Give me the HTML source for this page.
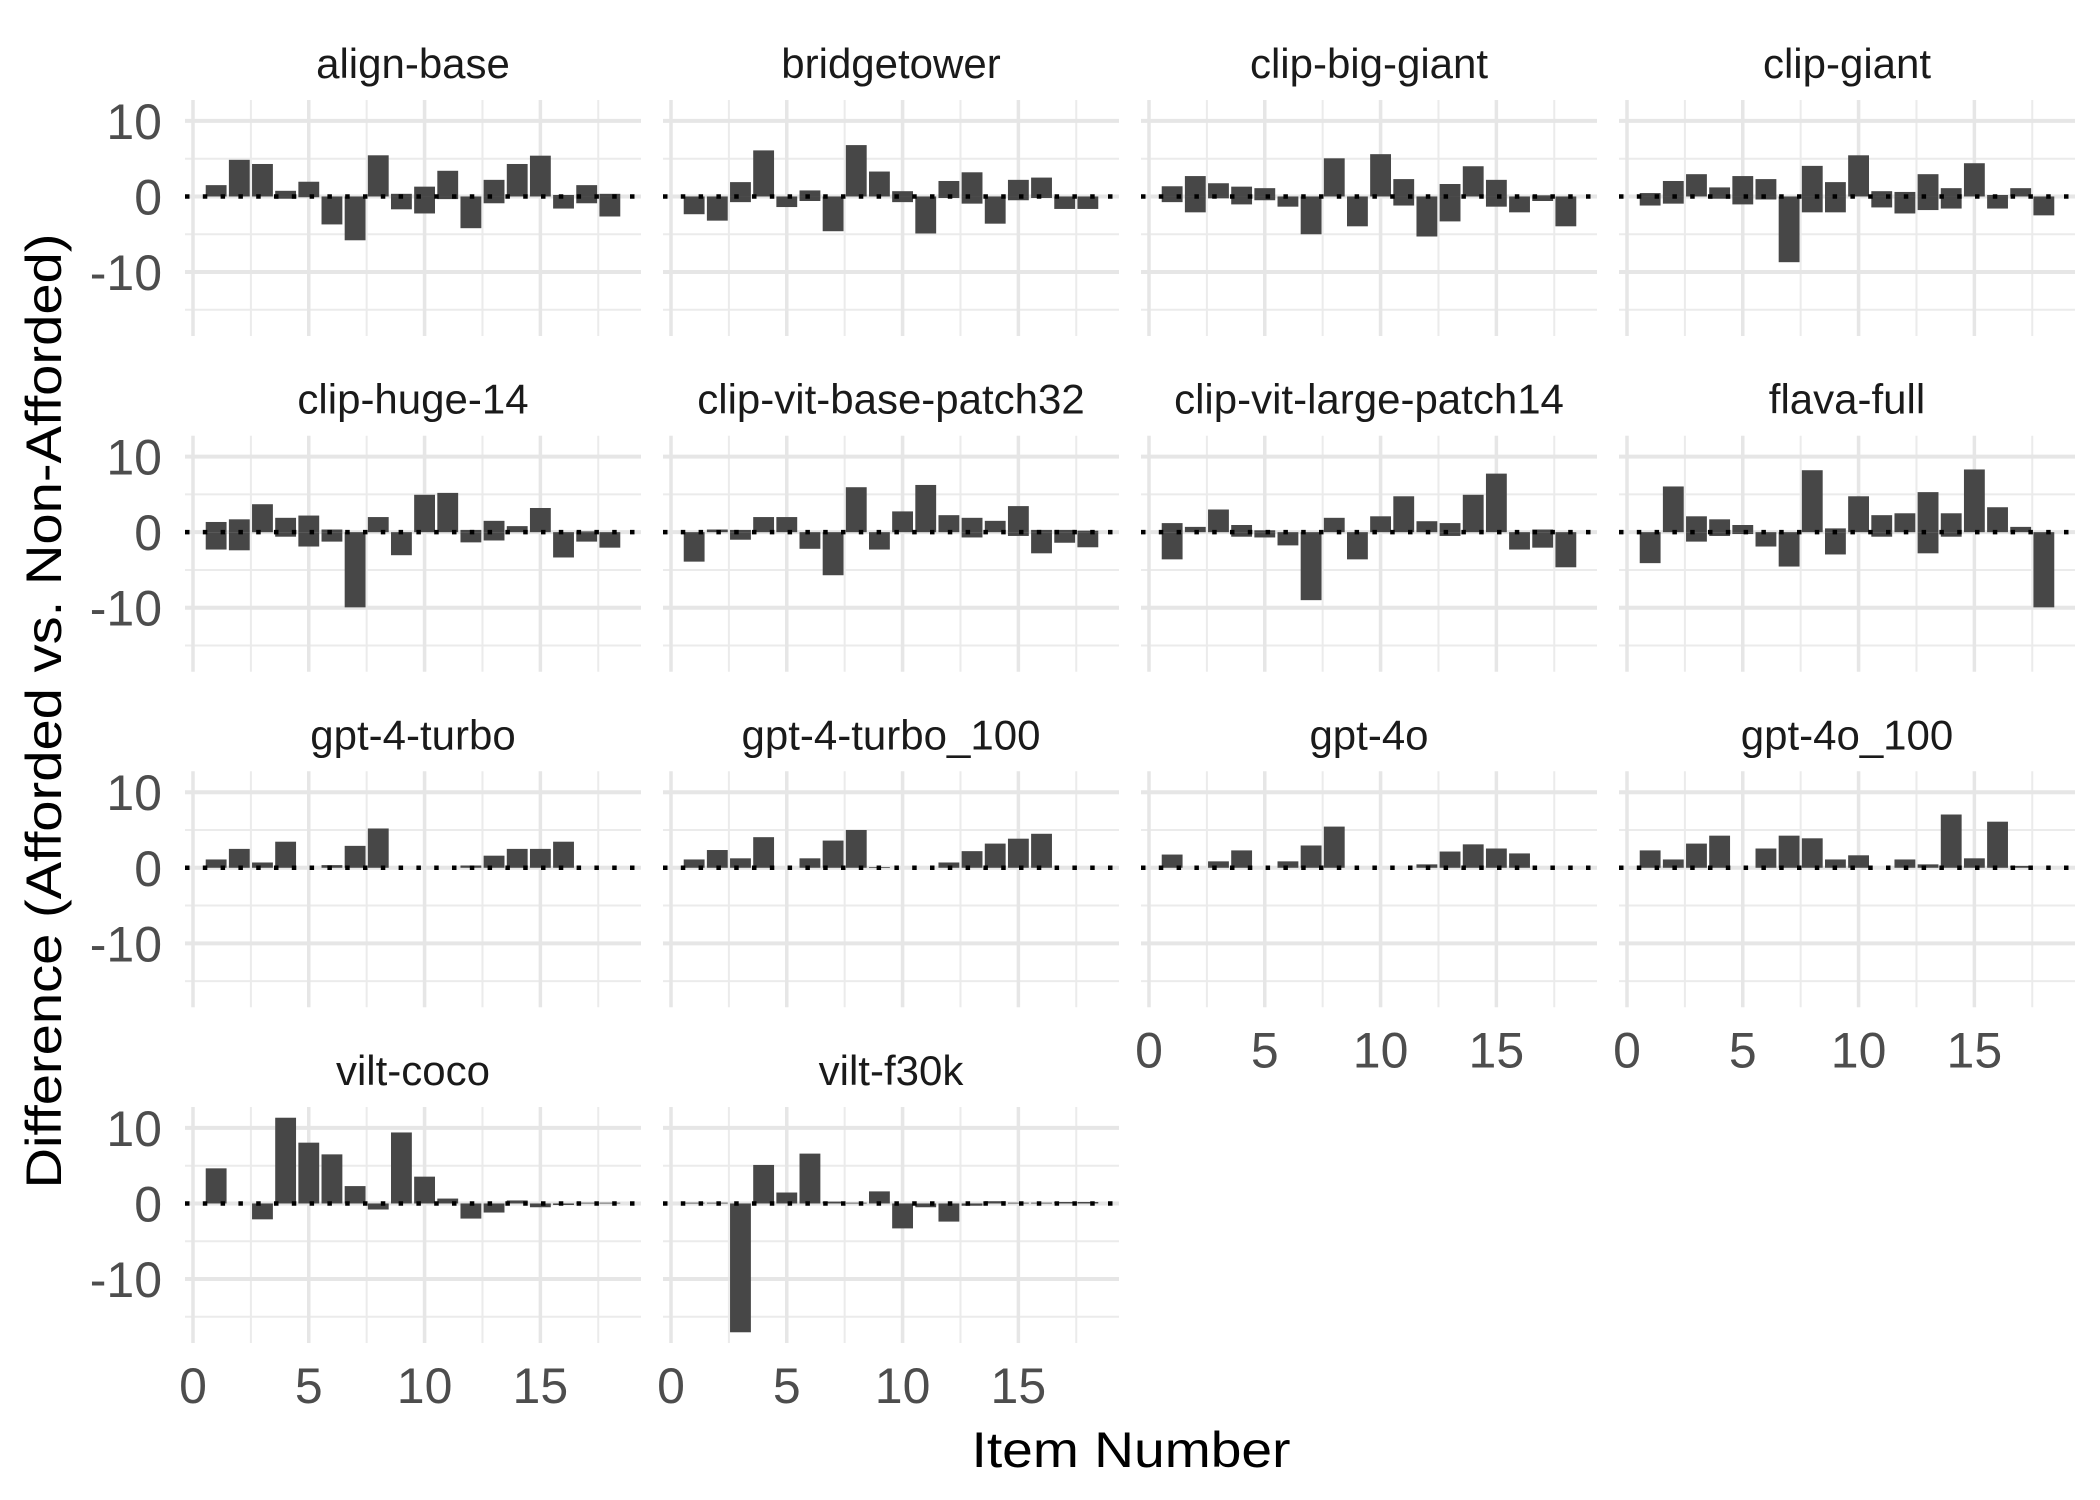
<!DOCTYPE html>
<html><head><meta charset="utf-8"><style>
html,body{margin:0;padding:0;background:#fff;}
svg{display:block;font-family:"Liberation Sans",Arial,sans-serif;}
</style></head><body>
<svg id="chart" width="2100" height="1500" viewBox="0 0 2100 1500" xmlns="http://www.w3.org/2000/svg">
<rect width="2100" height="1500" fill="#fff"/>
<text transform="translate(61,711) rotate(-90)" text-anchor="middle" font-size="50" fill="#000" textLength="955" lengthAdjust="spacingAndGlyphs">Difference (Afforded vs. Non-Afforded)</text>
<text x="1131" y="1467" text-anchor="middle" font-size="50" fill="#000" textLength="319" lengthAdjust="spacingAndGlyphs">Item Number</text>
</svg>
<script>
const models = ["align-base","bridgetower","clip-big-giant","clip-giant","clip-huge-14","clip-vit-base-patch32","clip-vit-large-patch14","flava-full","gpt-4-turbo","gpt-4-turbo_100","gpt-4o","gpt-4o_100","vilt-coco","vilt-f30k"];
const items = [1,2,3,4,5,6,7,8,9,10,11,12,13,14,15,16,17,18];
const posVals = [
 [1.5,4.85,4.3,0.75,1.95,0,0,5.45,0.35,1.3,3.4,0,2.2,4.3,5.4,0.2,1.5,0.35],
 [0,0,1.9,6.1,0,0.8,0,6.8,3.3,0.7,0,2.05,3.2,0,2.2,2.5,0,0],
 [1.35,2.7,1.75,1.3,1.1,0,0,5.05,0,5.6,2.3,0,1.65,4.0,2.2,0,0.15,0],
 [0.45,2.05,2.95,1.2,2.7,2.3,0,4.05,1.9,5.45,0.7,0.6,2.95,1.1,4.4,0.2,1.1,0],
 [1.35,1.7,3.7,1.9,2.2,0.35,0,2.0,0,4.95,5.2,0.3,1.5,0.8,3.2,0,0.1,0],
 [0,0.35,0.3,2.0,2.0,0,0,5.95,0,2.75,6.25,2.25,1.9,1.5,3.45,0.3,0.3,0.2],
 [1.2,0.7,3.0,0.95,0.25,0,0,1.9,0,2.1,4.75,1.45,1.2,4.95,7.75,0,0.35,0],
 [0,6.05,2.1,1.7,0.95,0,0,8.2,0.5,4.75,2.25,2.5,5.3,2.5,8.3,3.3,0.7,0],
 [1.1,2.5,0.7,3.45,0,0.35,2.9,5.2,0,0,0,0.3,1.6,2.5,2.5,3.45,0,0],
 [1.1,2.35,1.25,4.05,0,1.25,3.6,5.0,0.1,0,0,0.7,2.2,3.2,3.85,4.5,0,0],
 [1.75,0,0.85,2.3,0,0.85,2.95,5.45,0,0,0,0.45,2.15,3.1,2.55,1.9,0,0],
 [2.3,1.1,3.2,4.25,0,2.55,4.25,3.9,1.1,1.65,0,1.1,0.45,7.05,1.25,6.1,0.25,0],
 [4.65,0,0,11.35,8.05,6.5,2.3,0,9.4,3.55,0.65,0,0,0.4,0,0,0.1,0.1],
 [0.1,0.1,0,5.1,1.45,6.6,0.25,0.1,1.6,0,0,0,0,0.3,0.1,0.1,0.2,0.2]
];
const negVals = [
 [0,0,0,-0.3,-0.1,-3.7,-5.8,0,-1.7,-2.25,-0.35,-4.2,-0.9,0,0,-1.6,-0.9,-2.65],
 [-2.35,-3.2,-0.75,0,-1.4,-0.6,-4.6,0,0,-0.75,-4.9,-0.2,-0.95,-3.6,-0.5,-0.2,-1.65,-1.65],
 [-0.75,-2.1,-0.25,-1.05,-0.5,-1.35,-5.0,0,-3.95,0,-1.2,-5.3,-3.3,0,-1.35,-2.1,-0.6,-3.95],
 [-1.2,-0.95,0,-0.3,-1.05,-0.4,-8.7,-2.1,-2.1,0,-1.45,-2.25,-1.8,-1.6,0,-1.6,0,-2.5],
 [-2.3,-2.4,0,-0.6,-1.9,-1.25,-9.95,0,-3.05,0,0,-1.35,-1.1,0,0,-3.35,-1.25,-2.05],
 [-3.9,0,-1.0,0,0,-2.2,-5.7,0,-2.3,0,0,0,-0.7,0,-0.5,-2.8,-1.4,-2.0],
 [-3.6,0,0,-0.6,-0.7,-1.75,-9.0,0,-3.6,0,0,0,-0.5,0,0,-2.3,-2.05,-4.65],
 [-4.1,0,-1.25,-0.5,-0.25,-1.9,-4.55,0,-2.95,0,-0.6,0,-2.8,-0.6,0,0,0,-9.95],
 [0,0,0,0,0,0,0,0,0,0,0,0,0,0,0,0,0,0],
 [0,0,0,0,0,0,0,0,0,0,0,0,0,0,0,0,0,0],
 [0,0,0,0,0,0,0,0,0,0,0,0,0,0,0,0,0,0],
 [0,0,0,0,0,0,0,0,0,0,0,0,0,0,0,0,0,0],
 [0,0,-2.1,0,0,0,0,-0.8,0,0,0,-2.0,-1.2,0,-0.5,-0.2,0,0],
 [0,0,-17.05,0,0,0,0,0,0,-3.3,-0.5,-2.4,-0.3,0,0,0,0,0]
];
const yTicks = [-10,0,10];
const yMinor = [-15,-5,5,15];
const xTicks = [0,5,10,15];
const xMinor = [2.5,7.5,12.5,17.5];

const NS = "http://www.w3.org/2000/svg";
const svg = document.getElementById('chart');
const PW = 456, PH = 236;
const colLeft = [185,663,1141,1619];
const rowTop = [100,435.7,771.3,1107];
let ymax = 0, ymin = 0;
posVals.forEach(a=>a.forEach(v=>{ if(v>ymax) ymax=v; }));
negVals.forEach(a=>a.forEach(v=>{ if(v<ymin) ymin=v; }));
const ySpan = ymax - ymin;
const yLo = ymin - 0.05*ySpan, yHi = ymax + 0.05*ySpan;
const xLo = 0.55 - 0.05*17.9, xHi = 18.45 + 0.05*17.9;

function mk(tag, attrs, parent){
  const e = document.createElementNS(NS, tag);
  for (const k in attrs) e.setAttribute(k, attrs[k]);
  (parent||svg).appendChild(e);
  return e;
}

models.forEach((m, idx) => {
  const col = idx % 4, row = Math.floor(idx / 4);
  const L = colLeft[col], T = rowTop[row];
  const xs = v => L + (v - xLo) / (xHi - xLo) * PW;
  const ys = v => T + (yHi - v) / (yHi - yLo) * PH;
  const g = mk('g', {});
  
  
  yMinor.forEach(v => { if (v > yLo && v < yHi) {
    const l = mk('line', {x1:L, x2:L+PW, y1:ys(v), y2:ys(v), stroke:'#ebebeb', 'stroke-width':2}, g);
    
    
  }});
  xMinor.forEach(v => {
    const l = mk('line', {x1:xs(v), x2:xs(v), y1:T, y2:T+PH, stroke:'#ebebeb', 'stroke-width':2}, g);
    
    
  });
  yTicks.forEach(v => {
    const l = mk('line', {x1:L, x2:L+PW, y1:ys(v), y2:ys(v), stroke:'#e6e6e6', 'stroke-width':4}, g);
    
    
  });
  xTicks.forEach(v => {
    const l = mk('line', {x1:xs(v), x2:xs(v), y1:T, y2:T+PH, stroke:'#e6e6e6', 'stroke-width':3.5}, g);
    
    
  });
  items.forEach((it, i) => {
    const p = posVals[idx][i], n = negVals[idx][i];
    const x0 = xs(it - 0.45), w = xs(it + 0.45) - x0;
    if (p > 0) {
      const r = mk('rect', {x:x0, y:ys(p), width:w, height:ys(0)-ys(p), fill:'#474747'}, g);
      
      
    }
    if (n < 0) {
      const r = mk('rect', {x:x0, y:ys(0), width:w, height:ys(n)-ys(0), fill:'#474747'}, g);
      
      
    }
  });
  const z = mk('line', {x1:L, x2:L+PW, y1:ys(0), y2:ys(0), stroke:'#000', 'stroke-width':4.5, 'stroke-dasharray':'4.5 13.3'}, g);
  
  
  const st = mk('text', {x:L+PW/2, y:T-22, 'text-anchor':'middle', 'font-size':42, fill:'#1a1a1a'}, g);
  st.textContent = m;
  
  
  if (col === 0) {
    yTicks.forEach(v => {
      const t = mk('text', {x:L-23, y:ys(v)+18, 'text-anchor':'end', 'font-size':50, fill:'#4d4d4d'}, g);
      t.textContent = String(v);
      
      
    });
  }
  const isBottom = (idx + 4 >= models.length);
  if (isBottom) {
    xTicks.forEach(v => {
      const t = mk('text', {x:xs(v), y:T+PH+60, 'text-anchor':'middle', 'font-size':50, fill:'#4d4d4d'}, g);
      t.textContent = String(v);
      
      
    });
  }
});
</script>
</body></html>
